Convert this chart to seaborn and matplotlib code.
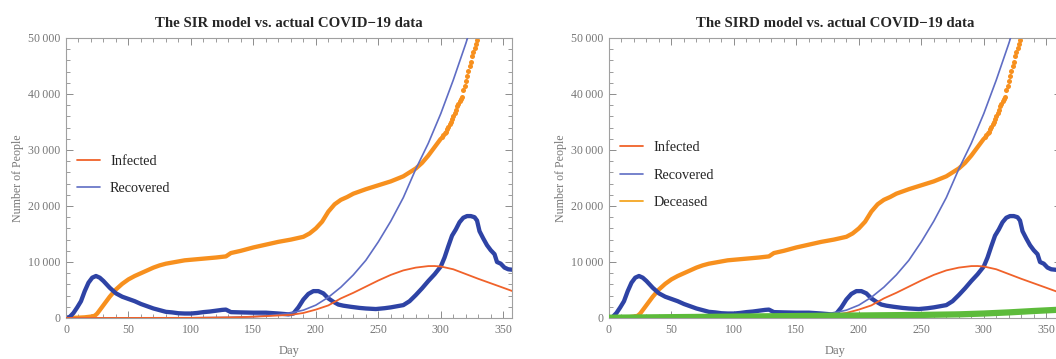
import numpy as np
import pandas as pd
import seaborn as sns
import matplotlib.pyplot as plt
from matplotlib.ticker import MultipleLocator, FuncFormatter

# actual data: confirmed (orange dots) and active (blue dots)
conf_days = [0, 5, 10, 15, 20, 23, 25, 30, 35, 40, 45, 50, 55, 60, 65, 70, 75, 80, 85, 90,
             95, 100, 110, 120, 128, 132, 140, 150, 160, 170, 180, 190, 195, 200, 205, 210,
             215, 220, 225, 230, 240, 250, 260, 270, 275, 280, 285, 290, 295, 300,
             301, 302, 303, 304, 305, 306, 307, 308, 309, 310, 311, 312, 313, 314, 315,
             316, 317, 318, 319, 320, 321, 322, 323, 324, 325, 326, 327, 328, 329, 330]
conf_vals = [0, 20, 60, 120, 250, 400, 800, 2300, 3800, 5100, 6100, 6900, 7500, 8000, 8500,
             9000, 9400, 9700, 9900, 10100, 10300, 10400, 10600, 10800, 11000, 11600, 12000,
             12600, 13100, 13600, 14000, 14500, 15100, 16000, 17200, 19000, 20300, 21100,
             21600, 22200, 23000, 23700, 24400, 25300, 26000, 26700, 27700, 29000, 30500,
             32000, 32300, 32700, 33000, 33300, 33700, 34100, 34600, 35000, 35500, 36000,
             36600, 37200, 37800, 38300, 38800, 39100, 39400, 40800, 41500, 42400, 43200,
             44100, 45000, 45800, 46700, 47500, 48300, 49000, 49700, 50400]

act_days = [0, 3, 6, 9, 12, 15, 18, 21, 24, 27, 30, 35, 40, 45, 50, 55, 60, 65, 70, 75, 80,
            85, 90, 95, 100, 105, 110, 115, 120, 125, 128, 132, 140, 150, 160, 170, 178, 182,
            186, 190, 194, 198, 202, 206, 210, 214, 218, 222, 228, 235, 240, 248, 255, 260,
            265, 270, 275, 280, 285, 290, 295, 300, 303, 306, 309, 312, 315, 318, 321, 324,
            327, 329, 331, 334, 337, 340, 343, 345, 348, 351, 354, 358]
act_vals = [0, 200, 900, 1900, 3000, 4800, 6300, 7200, 7500, 7200, 6600, 5400, 4400, 3800,
            3400, 3000, 2500, 2100, 1700, 1400, 1100, 1000, 850, 800, 800, 900, 1050, 1150,
            1300, 1450, 1500, 1050, 1000, 950, 950, 800, 650, 800, 1900, 3300, 4300, 4800,
            4800, 4400, 3500, 2900, 2400, 2200, 2000, 1800, 1700, 1600, 1750, 1900, 2100,
            2300, 3000, 4100, 5300, 6600, 7800, 9200, 10800, 12800, 14700, 15800, 17100,
            17900, 18200, 18200, 18000, 17400, 15500, 14200, 13000, 12100, 11400, 10000,
            9700, 9000, 8700, 8600]

# deaths (green, right panel only)
dead_days = [0, 50, 100, 150, 200, 250, 280, 300, 320, 340, 358]
dead_vals = [50, 150, 250, 350, 450, 550, 650, 800, 1000, 1250, 1450]

# model curves
inf_days = [0, 100, 120, 140, 150, 160, 170, 180, 190, 200, 210, 220, 230, 240, 250, 260,
            270, 280, 290, 295, 300, 310, 320, 330, 340, 350, 358]
inf_vals = [0, 30, 80, 150, 230, 330, 450, 560, 900, 1500, 2250, 3500, 4500, 5600, 6700,
            7700, 8500, 9000, 9270, 9280, 9200, 8700, 7850, 7000, 6200, 5400, 4750]
rec_days = [0, 100, 130, 150, 160, 170, 180, 190, 200, 210, 220, 230, 240, 250, 260, 270,
            280, 290, 300, 310, 320, 325]
rec_vals = [0, 30, 100, 250, 400, 600, 900, 1400, 2300, 3700, 5500, 7700, 10300, 13600,
            17300, 21500, 26600, 31200, 36500, 42500, 49000, 52500]
dec_days = [0, 100, 200, 250, 300, 330, 358]
dec_vals = [0, 40, 200, 400, 700, 950, 1200]

sns.set_theme(style="ticks")
plt.rcParams['font.family'] = ['Liberation Serif', 'DejaVu Serif']

c_conf = '#F7901E'
c_act = '#2E43A5'
c_inf = '#F0622A'
c_rec = '#5F6DC4'
c_dec = '#F5A623'
c_dead = '#5DBB3B'
grey = '#8C8C8C'

fig = plt.figure(figsize=(10.56, 3.59), dpi=100)
ax1 = fig.add_axes([66 / 1056, 41 / 359, 446 / 1056, 280 / 359])
# right panel runs past the figure edge, as in the original
ax2 = fig.add_axes([609 / 1056, 41 / 359, 452 / 1056, 280 / 359])

conf = pd.DataFrame({'day': conf_days, 'n': conf_vals})
act = pd.DataFrame({'day': act_days, 'n': act_vals})


def fmt(v, pos):
    return f"{int(round(v)):,}".replace(",", "\u2009")


def draw(ax, title, sird, xmax):
    sns.lineplot(x=rec_days, y=rec_vals, color=c_rec, lw=1.2, ax=ax, label='Recovered',
                 zorder=3)
    sns.lineplot(x=inf_days, y=inf_vals, color=c_inf, lw=1.3, ax=ax, label='Infected',
                 zorder=3)
    if sird:
        sns.lineplot(x=dec_days, y=dec_vals, color=c_dec, lw=1.3, ax=ax, label='Deceased',
                     zorder=3)
    dense = conf[conf.day <= 300]
    ax.plot(dense.day, dense.n, color=c_conf, lw=3.1, solid_capstyle='round', zorder=2)
    sns.scatterplot(data=conf[conf.day > 300], x='day', y='n', color=c_conf, s=13,
                    linewidth=0, ax=ax, zorder=2)
    ax.plot(act.day, act.n, color=c_act, lw=3.1, solid_capstyle='round', zorder=2)
    if sird:
        ax.plot(dead_days, dead_vals, color=c_dead, lw=4.5, solid_capstyle='butt', zorder=4)

    ax.set_xlim(0, xmax)
    ax.set_ylim(0, 50000)
    ax.xaxis.set_major_locator(MultipleLocator(50))
    ax.xaxis.set_minor_locator(MultipleLocator(10))
    ax.yaxis.set_major_locator(MultipleLocator(10000))
    ax.yaxis.set_minor_locator(MultipleLocator(2000))
    ax.yaxis.set_major_formatter(FuncFormatter(fmt))
    ax.tick_params(which='both', direction='in', top=True, right=True, colors=grey,
                   labelcolor='#777777', labelsize=8.6, pad=4)
    ax.tick_params(which='major', length=5, width=0.7)
    ax.tick_params(which='minor', length=2.8, width=0.6)
    for s in ax.spines.values():
        s.set_color('#A0A0A0')
        s.set_linewidth(0.8)
    ax.set_title(title, fontsize=10.7, fontweight='bold', pad=8)
    ax.set_xlabel('Day', fontsize=9, color='#777777', labelpad=7)
    ax.set_ylabel('Number of People', fontsize=8.6, color='#777777', labelpad=3)

    handles, labels = ax.get_legend_handles_labels()
    order = ['Infected', 'Recovered', 'Deceased']
    pairs = sorted(zip(labels, handles), key=lambda p: order.index(p[0]))
    ax.legend([p[1] for p in pairs], [p[0] for p in pairs], loc='center left',
              bbox_to_anchor=(0.025, 0.51), frameon=False, fontsize=10.3, handlelength=1.6,
              handletextpad=0.7, labelspacing=1.0, borderaxespad=0, borderpad=0)


draw(ax1, 'The SIR model vs. actual COVID\u221219 data', False, 357)
draw(ax2, 'The SIRD model vs. actual COVID\u221219 data', True, 357 * 452 / 446)

fig.savefig('out.png', dpi=100)
